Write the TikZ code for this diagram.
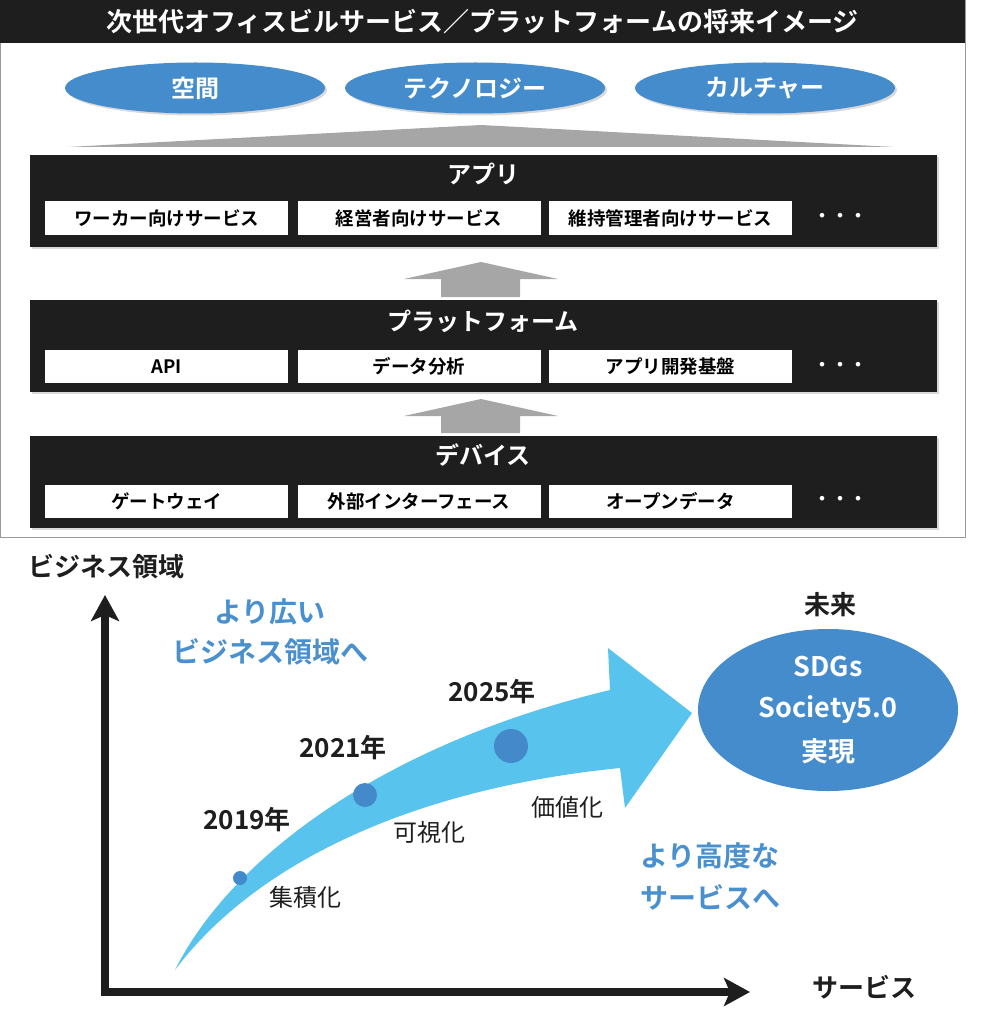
\documentclass[tikz,border=0pt]{standalone}
\usepackage{fontspec}
\setmainfont{Noto Sans CJK JP}[BoldFont={* Bold}]
\usetikzlibrary{shapes.geometric}
\usetikzlibrary{arrows.meta}
\usetikzlibrary{shadows}
\definecolor{barblack}{RGB}{30,30,30}
\definecolor{topicblue}{RGB}{68,140,203}
\definecolor{stepgray}{RGB}{166,166,166}
\definecolor{flowblue}{RGB}{88,195,237}
\definecolor{dotblue}{RGB}{68,138,202}
\definecolor{noteblue}{RGB}{74,144,206}
\newcommand{\jpsize}[1]{\fontsize{#1}{#1}\selectfont}
\tikzset{
	shade/.style={drop shadow={shadow xshift=2pt,shadow yshift=-2pt,opacity=.3}},
	titlebar/.style={fill=barblack,text=white,minimum width=965pt,minimum height=43pt,inner sep=0pt,font=\bfseries\jpsize{26}},
	topic/.style={ellipse,fill=topicblue,text=white,minimum width=260pt,minimum height=51pt,font=\bfseries\jpsize{24},shade},
	layer/.style={fill=barblack,minimum width=907pt,minimum height=92pt,inner sep=0pt,shade},
	layertitle/.style={text=white,font=\bfseries\jpsize{24}},
	item/.style={fill=white,minimum width=243pt,minimum height=33pt,inner sep=0pt,font=\bfseries\jpsize{18.5}},
	more/.style={text=white,font=\bfseries\jpsize{18}},
	axis/.style={draw=barblack,line width=8pt,{Stealth[length=26pt,width=28pt,inset=6pt]}-{Stealth[length=26pt,width=28pt,inset=6pt]}},
	axislabel/.style={text=barblack,font=\bfseries\jpsize{26}},
	note/.style={text=noteblue,align=center,font=\bfseries\jpsize{28}},
	year/.style={text=barblack,font=\bfseries\jpsize{26}},
	stage/.style={text=barblack,font=\jpsize{24}},
	milestone/.style={circle,fill=dotblue,inner sep=0pt},
	goal/.style={ellipse,fill=topicblue,text=white,align=center,minimum width=260pt,minimum height=135pt,font=\bfseries\jpsize{27}}
}
\begin{document}
\begin{tikzpicture}[x=1pt,y=-1pt]
	\useasboundingbox (0,0) rectangle (1005,1024);
	\node[draw=gray!80,line width=1.2pt,minimum width=965pt,minimum height=537pt,inner sep=0pt,anchor=north west] (frame) at (0,0) {};
	\node[titlebar] (title) at (482.5,21.5) {次世代オフィスビルサービス／プラットフォームの将来イメージ};
	\node[topic] (space) at (195,88) {空間};
	\node[topic] (tech) at (475,88) {テクノロジー};
	\node[topic] (culture) at (765,88) {カルチャー};
	\fill[stepgray] (68,147) -- (481,125) -- (894,147) -- cycle;
	\node[layer] (app) at (483,201) {};
	\node[layertitle] (apptitle) at (483,174) {アプリ};
	\node[item] (worker) at (166.5,218) {ワーカー向けサービス};
	\node[item] (manager) at (419,218) {経営者向けサービス};
	\node[item] (keeper) at (670.5,218) {維持管理者向けサービス};
	\node[more] (appmore) at (840,218) {・・・};
	\fill[stepgray] (441,297) -- (441,279) -- (404,279) -- (481,262) -- (558,279) -- (520,279) -- (520,297) -- cycle;
	\node[layer] (platform) at (483,346) {};
	\node[layertitle] (platformtitle) at (483,321) {プラットフォーム};
	\node[item] (api) at (166.5,366.5) {API};
	\node[item] (analysis) at (419,366.5) {データ分析};
	\node[item] (devbase) at (670.5,366.5) {アプリ開発基盤};
	\node[more] (platformmore) at (840,366.5) {・・・};
	\fill[stepgray] (441,433) -- (441,416) -- (404,416) -- (481,399) -- (558,416) -- (520,416) -- (520,433) -- cycle;
	\node[layer] (device) at (483,482) {};
	\node[layertitle] (devicetitle) at (483,455) {デバイス};
	\node[item] (gateway) at (166.5,501) {ゲートウェイ};
	\node[item] (interface) at (419,501) {外部インターフェース};
	\node[item] (opendata) at (670.5,501) {オープンデータ};
	\node[more] (devicemore) at (840,501) {・・・};

	\coordinate (origin) at (105,992);
	\coordinate (ytip) at (105,595);
	\coordinate (xtip) at (750,992);
	\draw[axis] (ytip) -- (origin) -- (xtip);
	\node[axislabel] (ylabel) at (106,567) {ビジネス領域};
	\node[axislabel] (xlabel) at (864,987) {サービス};
	\node[note] (wider) at (270,632) {より広い\\[12pt]ビジネス領域へ};
	\node[note] (higher) at (710,876) {より高度な\\[14pt]サービスへ};

	\fill[flowblue] (175,970) .. controls (230,860) and (380,745) .. (610,690) -- (608,648) -- (692,713) -- (625,808) -- (620,768) .. controls (400,790) and (250,870) .. cycle;
	\node[milestone,minimum size=14pt] (m2019) at (240,878) {};
	\node[milestone,minimum size=24pt] (m2021) at (365,795) {};
	\node[milestone,minimum size=34pt] (m2025) at (511,746) {};
	\node[year] (y2019) at (247,820) {2019年};
	\node[year] (y2021) at (343,748) {2021年};
	\node[year] (y2025) at (492,692) {2025年};
	\node[stage] (collect) at (305,897) {集積化};
	\node[stage] (visual) at (429,832) {可視化};
	\node[stage] (value) at (567,807) {価値化};
	\node[axislabel] (future) at (830,605) {未来};
	\node[goal] (sdgs) at (828,710) {SDGs\\[14pt]Society5.0\\[14pt]実現};
\end{tikzpicture}
\end{document}
